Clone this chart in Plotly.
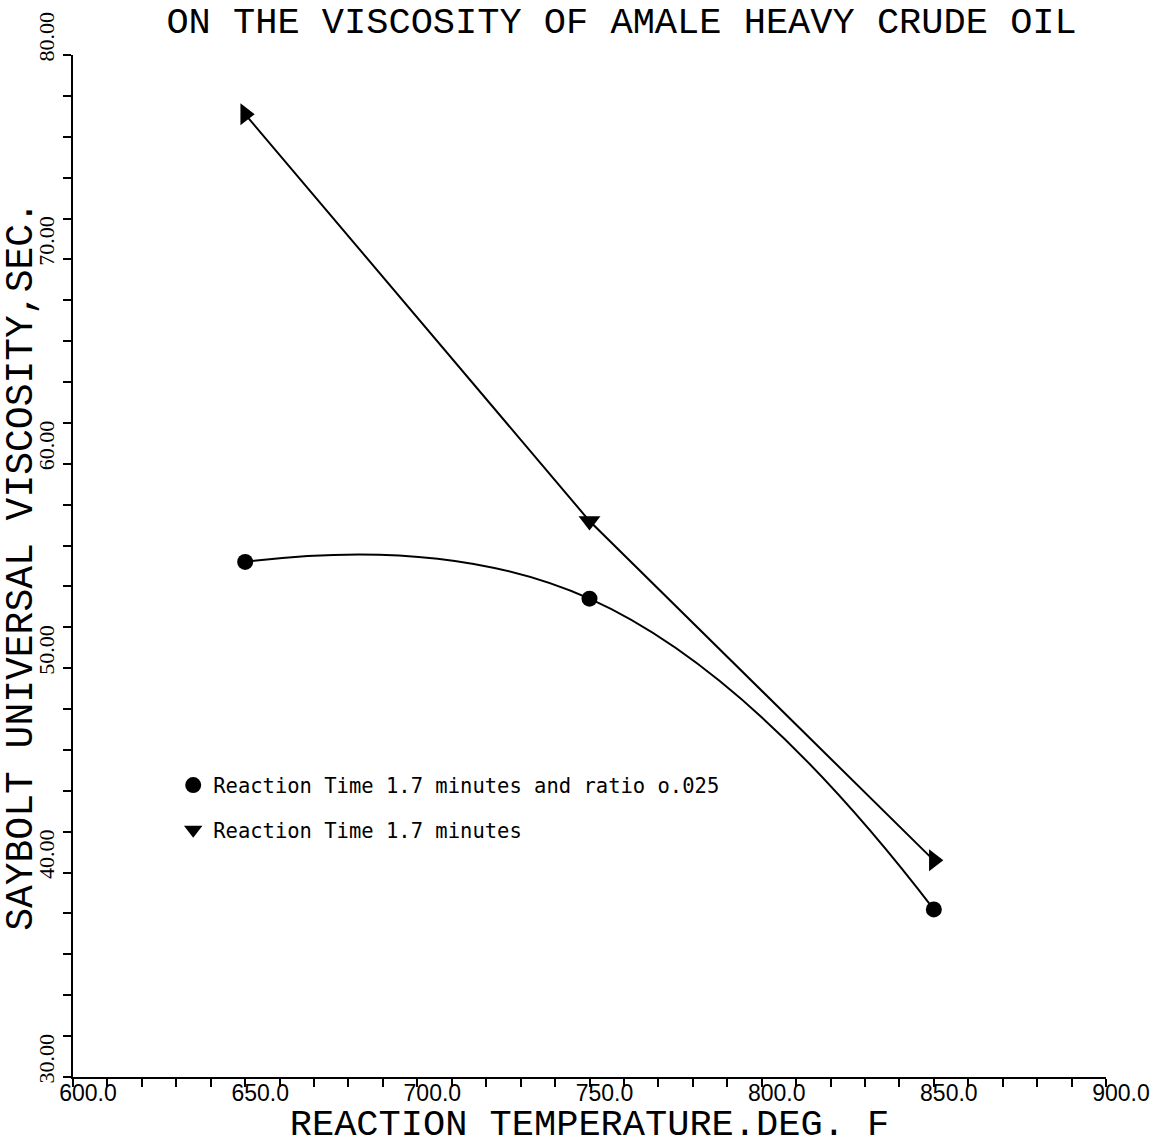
import plotly.graph_objects as go

# Data
temps = [650, 750, 850]
visc_ratio = [55.2, 53.4, 38.2]       # circles: Reaction Time 1.7 minutes and ratio o.025
visc_time = [77.1, 57.2, 40.6]        # triangles: Reaction Time 1.7 minutes
tri_angles = [-90, 0, -90]            # orientation of the drawn triangles

name_ratio = "Reaction Time 1.7 minutes and ratio o.025"
name_time = "Reaction Time 1.7 minutes"

title_text = "ON THE VISCOSITY OF AMALE HEAVY CRUDE OIL"
x_title = "REACTION TEMPERATURE.DEG. F"
y_title = "SAYBOLT UNIVERSAL VISCOSITY,SEC."

fig = go.Figure()

# curve lines
fig.add_trace(go.Scatter(x=temps, y=visc_ratio, mode="lines",
                         line=dict(color="black", width=2, shape="spline", smoothing=1.3),
                         showlegend=False, hoverinfo="skip"))
fig.add_trace(go.Scatter(x=temps, y=visc_time, mode="lines",
                         line=dict(color="black", width=2),
                         showlegend=False, hoverinfo="skip"))
# markers
fig.add_trace(go.Scatter(x=temps, y=visc_ratio, mode="markers",
                         marker=dict(symbol="circle", size=16, color="black"),
                         name=name_ratio, showlegend=False))
fig.add_trace(go.Scatter(x=temps, y=visc_time, mode="markers",
                         marker=dict(symbol="triangle-down", size=19, color="black", angle=tri_angles),
                         name=name_time, showlegend=False))
# legend entries
fig.add_trace(go.Scatter(x=[None], y=[None], mode="markers",
                         marker=dict(symbol="circle", size=16, color="black"),
                         name=name_ratio, legendgroup="a"))
fig.add_trace(go.Scatter(x=[None], y=[None], mode="markers",
                         marker=dict(symbol="triangle-down", size=16, color="black"),
                         name=name_time, legendgroup="b"))

fig.update_layout(
    width=1164, height=1146,
    paper_bgcolor="white", plot_bgcolor="white",
    margin=dict(l=73, r=58, t=55, b=69),
    title=dict(text=title_text, x=0.534, xref="container", xanchor="center",
               y=1 - 20 / 1146, yref="container", yanchor="middle",
               font=dict(family="Liberation Mono", size=37, color="black")),
    legend=dict(x=0.097, y=0.305, xanchor="left", yanchor="top",
                font=dict(family="DejaVu Sans Mono", size=20.5, color="black"),
                bgcolor="rgba(0,0,0,0)", tracegroupgap=15),
    xaxis=dict(range=[600, 900], dtick=50, tick0=600, tickformat=".1f",
               automargin=False,
               showline=True, linecolor="black", linewidth=2,
               ticks="outside", ticklen=8, tickwidth=2, tickcolor="black",
               minor=dict(dtick=10, ticks="outside", ticklen=8, tickwidth=2, tickcolor="black"),
               showgrid=False, zeroline=False,
               ticklabelshift=15, ticklabelstandoff=-14, ticklabeloverflow="allow",
               tickfont=dict(family="Liberation Sans", size=23, color="black"),
               title=dict(text=x_title, standoff=4,
                          font=dict(family="Liberation Mono", size=37, color="black"))),
    yaxis=dict(range=[30, 80], dtick=10, tick0=30, tickformat=".2f",
               automargin=False,
               showline=True, linecolor="black", linewidth=2,
               ticks="outside", ticklen=8, tickwidth=2, tickcolor="black",
               minor=dict(dtick=2, ticks="outside", ticklen=8, tickwidth=2, tickcolor="black"),
               showgrid=False, zeroline=False,
               tickangle=-90, ticklabelshift=-15, ticklabeloverflow="allow",
               tickfont=dict(family="Liberation Serif", size=22, color="black"),
               title=dict(text=y_title, standoff=4,
                          font=dict(family="Liberation Mono", size=38, color="black"))),
)

fig.write_html("out.html")
